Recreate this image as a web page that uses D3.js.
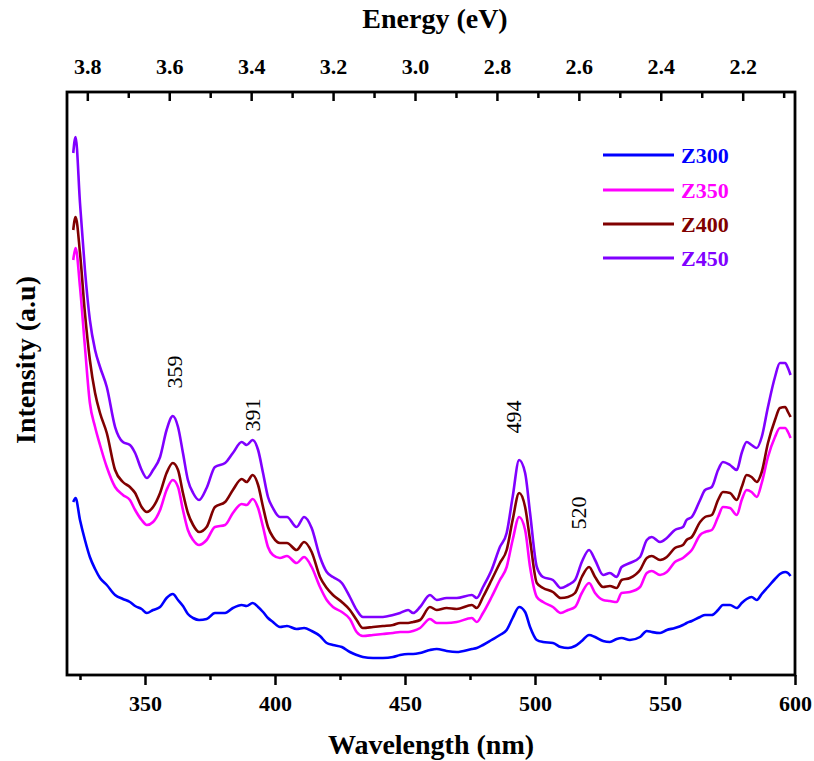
<!DOCTYPE html>
<html>
<head>
<meta charset="utf-8">
<script src="https://cdn.jsdelivr.net/npm/d3@7"></script>
<style>
  html, body { margin: 0; padding: 0; background: #fff; }
  svg { display: block; }
  svg text { font-family: "Liberation Serif", "Times New Roman", serif !important; }
</style>
</head>
<body>
<svg id="chart" width="814" height="761" font-family="Liberation Serif, serif"></svg>
<script>
// ---------------- DATA ----------------
const seriesNames = ["Z300", "Z350", "Z400", "Z450"];
const seriesColors = ["#0000ff", "#ff00ff", "#800000", "#8000ff"];

const wavelength = [
  322.4, 323.3, 325.0, 326.9, 328.8, 330.8, 332.7, 335.3, 338.5, 341.5,
  344.2, 346.2, 348.7, 350.7, 353.1, 355.8, 358.3, 360.7, 362.7, 364.6,
  366.5, 368.5, 370.8, 373.7, 376.9, 380.8, 383.8, 387.2, 389.1, 391.4,
  393.5, 395.4, 397.3, 399.2, 401.9, 404.6, 408.3, 411.2, 414.1, 417.3,
  419.9, 422.3, 425.7, 428.8, 431.4, 433.8, 437.7, 441.5, 445.4, 448.1,
  451.2, 453.1, 455.8, 459.6, 462.2, 466.0, 469.9, 475.7, 477.6, 480.0,
  483.3, 486.5, 489.1, 491.4, 493.9, 496.2, 498.1, 500.7, 503.1, 506.9,
  509.9, 512.7, 515.4, 518.0, 520.8, 523.1, 526.2, 528.8, 531.4, 533.3,
  536.5, 540.4, 543.0, 544.9, 548.1, 550.7, 553.8, 556.9, 558.3, 560.3,
  563.5, 565.4, 568.0, 570.4, 572.3, 575.0, 577.6, 579.5, 581.4, 583.3,
  585.3, 587.2, 589.6, 592.3, 594.2, 596.2, 597.3, 598.3
];

const z300 = [
  173, 177, 155, 135, 118, 106, 97, 90, 80, 76,
  73, 69, 66, 62, 65, 68, 77, 81, 75, 69,
  61, 57, 55, 56, 62, 62, 67, 70, 69, 72,
  68, 63, 57, 53, 48, 49, 46, 47, 44, 39,
  32, 30, 28, 23, 20, 18, 17, 17, 18, 20,
  21, 21, 22, 25, 26, 24, 23, 26, 27, 30,
  35, 40, 45, 57, 68, 63, 48, 35, 33, 32,
  28, 27, 29, 34, 40, 38, 34, 33, 36, 37,
  35, 38, 44, 43, 42, 45, 47, 50, 52, 54,
  58, 60, 60, 65, 70, 70, 67, 72, 76, 78,
  75, 81, 88, 96, 101, 103, 102, 99
];

const z350 = [
  415, 427, 388, 328, 272, 248, 230, 208, 188, 180,
  175, 165, 155, 150, 153, 165, 185, 195, 188, 165,
  145, 135, 130, 135, 148, 150, 162, 171, 170, 176,
  167, 148, 128, 120, 117, 119, 112, 118, 108, 88,
  75, 68, 63, 56, 43, 39, 40, 41, 42, 43,
  43, 44, 47, 56, 52, 52, 53, 57, 53, 62,
  78, 95, 108, 135, 158, 145, 108, 78, 73, 68,
  62, 65, 68, 82, 92, 82, 75, 74, 73, 82,
  83, 88, 102, 104, 100, 103, 113, 117, 120, 125,
  140, 143, 145, 158, 168, 167, 160, 175, 185, 183,
  178, 192, 218, 238, 247, 247, 243, 237
];

const z400 = [
  445, 458, 422, 362, 315, 282, 262, 242, 205, 193,
  188, 182, 168, 163, 168, 182, 202, 212, 205, 182,
  162, 150, 143, 148, 168, 173, 185, 196, 193, 200,
  190, 168, 148, 138, 132, 132, 125, 133, 123, 98,
  87, 80, 73, 65, 55, 47, 48, 49, 50, 52,
  52, 53, 55, 68, 65, 67, 66, 70, 67, 78,
  95, 112, 125, 155, 182, 168, 135, 92, 87, 83,
  77, 78, 82, 98, 108, 98, 88, 89, 87, 95,
  97, 105, 117, 119, 115, 118, 127, 130, 135, 138,
  153, 158, 160, 175, 183, 182, 175, 188, 200, 198,
  193, 203, 232, 255, 267, 268, 263, 258
];

const z450 = [
  522, 538, 472, 405, 355, 325, 308, 288, 248, 233,
  230, 222, 205, 197, 205, 218, 245, 259, 248, 222,
  195, 182, 175, 187, 208, 212, 222, 233, 230, 235,
  225, 202, 178, 167, 158, 158, 148, 158, 147, 118,
  103, 98, 92, 78, 65, 58, 58, 58, 60, 62,
  65, 62, 68, 80, 75, 77, 77, 80, 77, 88,
  105, 128, 142, 178, 215, 202, 162, 108, 98, 95,
  87, 90, 95, 113, 125, 115, 100, 102, 98, 108,
  112, 118, 135, 138, 133, 137, 145, 148, 155, 158,
  175, 185, 188, 205, 213, 210, 205, 222, 233, 230,
  227, 238, 268, 298, 312, 312, 307, 300
];

const seriesValues = [z300, z350, z400, z450];

const wlMajorTicks = [350, 400, 450, 500, 550, 600];
const wlMinorTicks = [325, 375, 425, 475, 525, 575];
const eMajorTicks = [3.8, 3.6, 3.4, 3.2, 3.0, 2.8, 2.6, 2.4, 2.2];
const eMinorTicks = [3.7, 3.5, 3.3, 3.1, 2.9, 2.7, 2.5, 2.3, 2.1];

const peakText = ["359", "391", "494", "520"];
const peakAt = [361.2, 391.5, 491.9, 516.9];
const peakLevel = [303, 260, 258, 162];

// ---------------- LAYOUT ----------------
const FONT = "Liberation Serif, Times New Roman, serif";
const svg = d3.select("#chart");
const L = 67, R = 795, T = 92, B = 675;

const x = d3.scaleLinear().domain([320, 600]).range([L, R]);
const xe = d3.scaleLinear().domain([3.8496, 2.0723]).range([L, R]);
const y = d3.scaleLinear().domain([0, 583]).range([B, T]);

svg.append("rect").attr("width", 814).attr("height", 761).attr("fill", "#fff");

svg.append("clipPath").attr("id", "clip")
  .append("rect").attr("x", L).attr("y", T).attr("width", R - L).attr("height", B - T);

const line = d3.line()
  .x((d, i) => x(wavelength[i]))
  .y(d => y(d))
  .curve(d3.curveMonotoneX);

const g = svg.append("g").attr("clip-path", "url(#clip)");
seriesValues.forEach((vals, k) => {
  g.append("path")
    .attr("d", line(vals))
    .attr("fill", "none")
    .attr("stroke", seriesColors[k])
    .attr("stroke-width", 2.6)
    .attr("stroke-linejoin", "round");
});

// bottom axis
const bAxisMajor = d3.axisBottom(x).tickValues(wlMajorTicks).tickSize(10).tickFormat(d3.format("d"));
const bAxisMinor = d3.axisBottom(x).tickValues(wlMinorTicks).tickSize(5).tickFormat("");
const gb = svg.append("g").attr("transform", `translate(0,${B})`).call(bAxisMajor);
svg.append("g").attr("transform", `translate(0,${B})`).call(bAxisMinor);

// top axis (inward ticks)
const tAxisMajor = d3.axisTop(xe).tickValues(eMajorTicks).tickSize(-9).tickFormat(d3.format(".1f"));
const tAxisMinor = d3.axisTop(xe).tickValues(eMinorTicks).tickSize(-6).tickFormat("");
const gt = svg.append("g").attr("transform", `translate(0,${T})`).call(tAxisMajor);
svg.append("g").attr("transform", `translate(0,${T})`).call(tAxisMinor);

svg.selectAll(".domain").remove();
svg.selectAll(".tick line").attr("stroke", "#000").attr("stroke-width", 2.5);
svg.selectAll("g").attr("font-family", FONT);

gb.selectAll(".tick text")
  .attr("y", 36).attr("dy", null)
  .attr("font-size", 22).attr("font-weight", "bold").attr("fill", "#000")
  .attr("font-family", FONT);
gt.selectAll(".tick text")
  .attr("y", -18).attr("dy", null)
  .attr("font-size", 22).attr("font-weight", "bold").attr("fill", "#000")
  .attr("font-family", FONT);

// frame
svg.append("rect")
  .attr("x", L).attr("y", T).attr("width", R - L).attr("height", B - T)
  .attr("fill", "none").attr("stroke", "#000").attr("stroke-width", 2.8);

// titles
svg.append("text").attr("x", (L + R) / 2).attr("y", 754)
  .attr("text-anchor", "middle").attr("font-size", 28).attr("font-weight", "bold")
  .attr("font-family", FONT).text("Wavelength (nm)");
svg.append("text").attr("x", 435).attr("y", 28)
  .attr("text-anchor", "middle").attr("font-size", 28).attr("font-weight", "bold")
  .attr("font-family", FONT).text("Energy (eV)");
svg.append("text").attr("transform", "translate(35,360) rotate(-90)")
  .attr("text-anchor", "middle").attr("font-size", 28).attr("font-weight", "bold")
  .attr("font-family", FONT).text("Intensity (a.u)");

// peak labels
peakText.forEach((t, i) => {
  const px = x(peakAt[i]) + 7.5, py = y(peakLevel[i]);
  svg.append("text").attr("transform", `translate(${px},${py}) rotate(-90)`)
    .attr("text-anchor", "middle").attr("font-size", 22).attr("fill", "#000")
    .attr("font-family", FONT).text(t);
});

// legend
const legY = [155, 190, 224, 258];
seriesNames.forEach((n, k) => {
  svg.append("line").attr("x1", 603).attr("x2", 674).attr("y1", legY[k]).attr("y2", legY[k])
    .attr("stroke", seriesColors[k]).attr("stroke-width", 3);
  svg.append("text").attr("x", 681).attr("y", legY[k] + 7.5)
    .attr("font-size", 22).attr("font-weight", "bold").attr("fill", seriesColors[k])
    .attr("font-family", FONT).text(n);
});
</script>
</body>
</html>
